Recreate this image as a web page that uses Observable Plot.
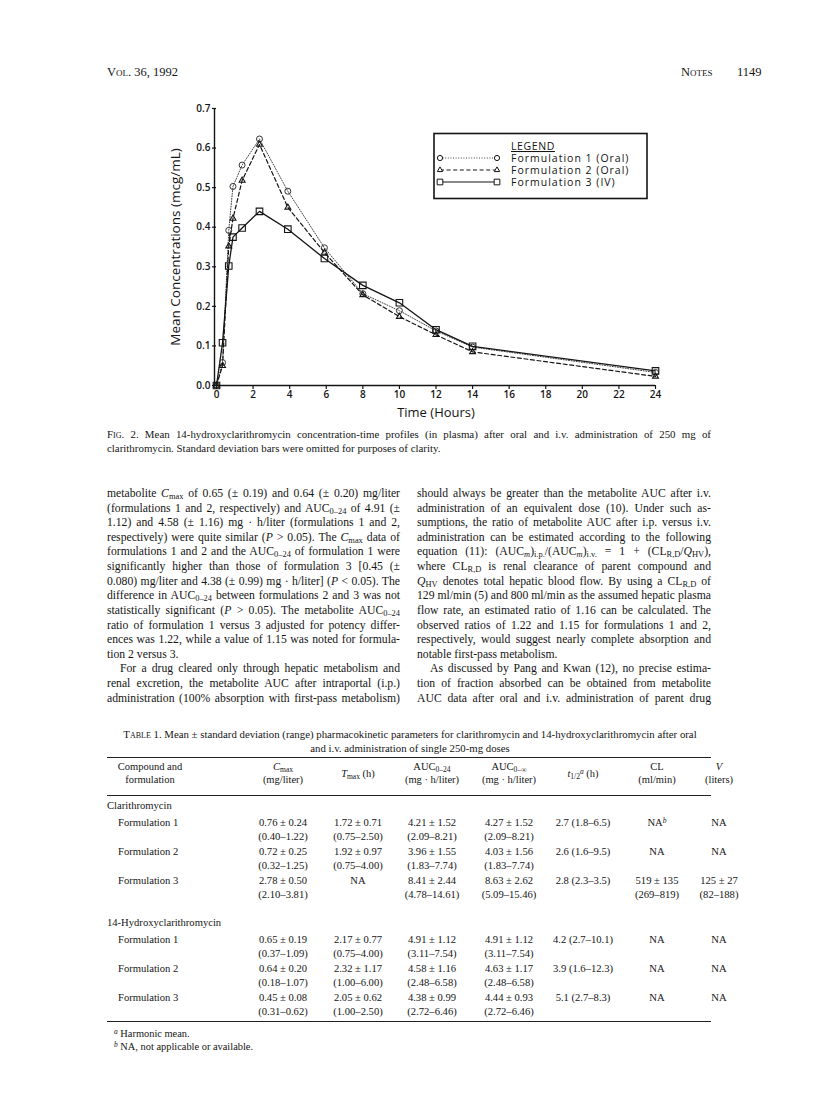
<!DOCTYPE html>
<html><head><meta charset="utf-8">
<script src="https://cdn.jsdelivr.net/npm/d3@7"></script>
<script src="https://cdn.jsdelivr.net/npm/@observablehq/plot@0.6"></script>
<style>
html,body{margin:0;padding:0;background:#fff;}
#page{position:relative;width:816px;height:1101px;overflow:hidden;font-family:"Liberation Serif","Times New Roman",serif;color:#151515;background:#fff;}
.t{position:absolute;white-space:nowrap;line-height:14px;}
.j{position:absolute;text-align:justify;text-align-last:justify;line-height:14px;height:14px;font-size:11.6px;}
.jl{text-align-last:left;}
sub{font-size:0.72em;vertical-align:-0.25em;line-height:0;}
sup{font-size:0.72em;vertical-align:0.45em;line-height:0;}
.sc{font-variant:small-caps;}
.rule{position:absolute;background:#222;}
#chart{position:absolute;left:150px;top:95px;}
</style></head><body><div id="page"></div>
<script>
// ---------- chart data ----------
const times = [0, 0.33, 0.67, 0.9, 1.4, 2.35, 3.9, 5.9, 8, 10, 12, 14, 24];
const form1 = [0, 0.058, 0.392, 0.503, 0.557, 0.623, 0.491, 0.348, 0.232, 0.189, 0.138, 0.097, 0.033];
const form2 = [0, 0.050, 0.352, 0.422, 0.518, 0.609, 0.450, 0.336, 0.229, 0.174, 0.128, 0.085, 0.023];
const form3 = [0, 0.108, 0.302, 0.375, 0.398, 0.440, 0.395, 0.321, 0.253, 0.209, 0.141, 0.099, 0.037];
const seriesNames = ["Formulation 1 (Oral)", "Formulation 2 (Oral)", "Formulation 3 (IV)"];
const xTicks = [0, 2, 4, 6, 8, 10, 12, 14, 16, 18, 20, 22, 24];
const yTicks = [0, 0.1, 0.2, 0.3, 0.4, 0.5, 0.6, 0.7];
const xLabel = "Time (Hours)";
const yLabel = "Mean Concentrations (mcg/mL)";

// ---------- page text ----------
const caption = [
  '<span class="sc">Fig.</span> 2. Mean 14-hydroxyclarithromycin concentration-time profiles (in plasma) after oral and i.v. administration of 250 mg of',
  'clarithromycin. Standard deviation bars were omitted for purposes of clarity.'
];
const leftCol = [
  ['metabolite <i>C</i><sub>max</sub> of 0.65 (± 0.19) and 0.64 (± 0.20) mg/liter', 0],
  ['(formulations 1 and 2, respectively) and AUC<sub>0–24</sub> of 4.91 (±', 0],
  ['1.12) and 4.58 (± 1.16) mg · h/liter (formulations 1 and 2,', 0],
  ['respectively) were quite similar (<i>P</i> &gt; 0.05). The <i>C</i><sub>max</sub> data of', 0],
  ['formulations 1 and 2 and the AUC<sub>0–24</sub> of formulation 1 were', 0],
  ['significantly higher than those of formulation 3 [0.45 (±', 0],
  ['0.080) mg/liter and 4.38 (± 0.99) mg · h/liter] (<i>P</i> &lt; 0.05). The', 0],
  ['difference in AUC<sub>0–24</sub> between formulations 2 and 3 was not', 0],
  ['statistically significant (<i>P</i> &gt; 0.05). The metabolite AUC<sub>0–24</sub>', 0],
  ['ratio of formulation 1 versus 3 adjusted for potency differ-', 0],
  ['ences was 1.22, while a value of 1.15 was noted for formula-', 0],
  ['tion 2 versus 3.', 2],
  ['For a drug cleared only through hepatic metabolism and', 1],
  ['renal excretion, the metabolite AUC after intraportal (i.p.)', 0],
  ['administration (100% absorption with first-pass metabolism)', 0]
];
const rightCol = [
  ['should always be greater than the metabolite AUC after i.v.', 0],
  ['administration of an equivalent dose (10). Under such as-', 0],
  ['sumptions, the ratio of metabolite AUC after i.p. versus i.v.', 0],
  ['administration can be estimated according to the following', 0],
  ['equation (11): (AUC<sub><i>m</i></sub>)<sub>i.p.</sub>/(AUC<sub><i>m</i></sub>)<sub>i.v.</sub> = 1 + (CL<sub>R,D</sub>/<i>Q</i><sub>HV</sub>),', 0],
  ['where CL<sub>R,D</sub> is renal clearance of parent compound and', 0],
  ['<i>Q</i><sub>HV</sub> denotes total hepatic blood flow. By using a CL<sub>R,D</sub> of', 0],
  ['129 ml/min (5) and 800 ml/min as the assumed hepatic plasma', 0],
  ['flow rate, an estimated ratio of 1.16 can be calculated. The', 0],
  ['observed ratios of 1.22 and 1.15 for formulations 1 and 2,', 0],
  ['respectively, would suggest nearly complete absorption and', 0],
  ['notable first-pass metabolism.', 2],
  ['As discussed by Pang and Kwan (12), no precise estima-', 1],
  ['tion of fraction absorbed can be obtained from metabolite', 0],
  ['AUC data after oral and i.v. administration of parent drug', 0]
];
const tableTitle = [
  '<span class="sc">Table</span> 1. Mean ± standard deviation (range) pharmacokinetic parameters for clarithromycin and 14-hydroxyclarithromycin after oral',
  'and i.v. administration of single 250-mg doses'
];
const colCenters = [150, 283, 358, 432, 509, 583, 657, 719];
const colHeads = [
  ['Compound and', 'formulation'],
  ['<i>C</i><sub>max</sub>', '(mg/liter)'],
  ['<i>T</i><sub>max</sub> (h)'],
  ['AUC<sub>0–24</sub>', '(mg · h/liter)'],
  ['AUC<sub>0–∞</sub>', '(mg · h/liter)'],
  ['<i>t</i><sub>1/2</sub><sup><i>a</i></sup> (h)'],
  ['CL', '(ml/min)'],
  ['<i>V</i>', '(liters)']
];
const groups = ['Clarithromycin', '14-Hydroxyclarithromycin'];
const rowLabels = ['Formulation 1', 'Formulation 2', 'Formulation 3'];
const tableCells = [
  [ // clarithromycin
    [['0.76 ± 0.24','(0.40–1.22)'],['1.72 ± 0.71','(0.75–2.50)'],['4.21 ± 1.52','(2.09–8.21)'],['4.27 ± 1.52','(2.09–8.21)'],['2.7 (1.8–6.5)'],['NA<sup><i>b</i></sup>'],['NA']],
    [['0.72 ± 0.25','(0.32–1.25)'],['1.92 ± 0.97','(0.75–4.00)'],['3.96 ± 1.55','(1.83–7.74)'],['4.03 ± 1.56','(1.83–7.74)'],['2.6 (1.6–9.5)'],['NA'],['NA']],
    [['2.78 ± 0.50','(2.10–3.81)'],['NA'],['8.41 ± 2.44','(4.78–14.61)'],['8.63 ± 2.62','(5.09–15.46)'],['2.8 (2.3–3.5)'],['519 ± 135','(269–819)'],['125 ± 27','(82–188)']]
  ],
  [ // 14-hydroxyclarithromycin
    [['0.65 ± 0.19','(0.37–1.09)'],['2.17 ± 0.77','(0.75–4.00)'],['4.91 ± 1.12','(3.11–7.54)'],['4.91 ± 1.12','(3.11–7.54)'],['4.2 (2.7–10.1)'],['NA'],['NA']],
    [['0.64 ± 0.20','(0.18–1.07)'],['2.32 ± 1.17','(1.00–6.00)'],['4.58 ± 1.16','(2.48–6.58)'],['4.63 ± 1.17','(2.48–6.58)'],['3.9 (1.6–12.3)'],['NA'],['NA']],
    [['0.45 ± 0.08','(0.31–0.62)'],['2.05 ± 0.62','(1.00–2.50)'],['4.38 ± 0.99','(2.72–6.46)'],['4.44 ± 0.93','(2.72–6.46)'],['5.1 (2.7–8.3)'],['NA'],['NA']]
  ]
];
const footnotes = ['<sup><i>a</i></sup> Harmonic mean.', '<sup><i>b</i></sup> NA, not applicable or available.'];

// ---------- helpers ----------
const page = document.getElementById('page');
function put(html, x, y, o = {}) {
  const d = document.createElement('div');
  d.className = 't';
  d.innerHTML = html;
  d.style.top = (y - 7) + 'px';
  d.style.fontSize = (o.size || 10.6) + 'px';
  if (o.align === 'center') { d.style.left = x + 'px'; d.style.transform = 'translateX(-50%)'; }
  else d.style.left = x + 'px';
  page.appendChild(d);
  return d;
}
function jline(html, x, w, y, kind, size) {
  const d = document.createElement('div');
  d.className = 'j' + (kind === 2 ? ' jl' : '');
  d.innerHTML = html;
  d.style.left = x + 'px';
  d.style.width = w + 'px';
  d.style.top = (y - 7) + 'px';
  d.style.fontSize = size + 'px';
  if (kind === 1) d.style.textIndent = '13px';
  page.appendChild(d);
}
function rule(x, y, w, h) {
  const d = document.createElement('div');
  d.className = 'rule';
  Object.assign(d.style, {left: x + 'px', top: y + 'px', width: w + 'px', height: h + 'px'});
  page.appendChild(d);
}

// ---------- header ----------
put('<span class="sc">Vol.</span> 36, 1992', 107, 72, {size: 12.5});
put('<span class="sc">Notes</span>', 681, 72, {size: 12.5});
put('1149', 737, 72, {size: 12.5});

// ---------- chart ----------
const rowsOf = (vals, s) => times.map((t, i) => ({t, v: vals[i], s}));
const r1 = rowsOf(form1, seriesNames[0]);
const r2 = rowsOf(form2, seriesNames[1]);
const r3 = rowsOf(form3, seriesNames[2]);
const ink = "#141414";
const chart = Plot.plot({
  width: 560, height: 335,
  marginLeft: 66, marginRight: 55, marginTop: 13, marginBottom: 45,
  style: {fontFamily: '"Open Sans", "DejaVu Sans", sans-serif', fontSize: "10px", color: ink, background: "transparent", overflow: "visible"},
  x: {domain: [0, 24]},
  y: {domain: [0, 0.7]},
  marks: [
    Plot.axisX({ticks: xTicks, tickSize: 4, tickPadding: 1, tickFormat: d => String(d), fontWeight: 600, label: null, strokeWidth: 1.2}),
    Plot.axisY({ticks: yTicks, tickSize: 4, tickPadding: 2, tickFormat: d3.format(".1f"), fontWeight: 600, label: null, strokeWidth: 1.2}),
    Plot.ruleY([0], {stroke: ink, strokeWidth: 1.6}),
    Plot.ruleX([0], {stroke: ink, strokeWidth: 1.4, dx: -2}),
    Plot.line(r1, {x: "t", y: "v", stroke: "#444", strokeWidth: 1, strokeDasharray: "1,1.6"}),
    Plot.line(r2, {x: "t", y: "v", stroke: ink, strokeWidth: 1.2, strokeDasharray: "4,2.6"}),
    Plot.line(r3, {x: "t", y: "v", stroke: ink, strokeWidth: 1.3}),
    Plot.dot(r1, {x: "t", y: "v", symbol: "circle", r: 3, stroke: "#333", strokeWidth: 1, fill: "none"}),
    Plot.dot(r2, {x: "t", y: "v", symbol: "triangle", r: 2.2, stroke: ink, strokeWidth: 1.1, fill: "none"}),
    Plot.dot(r3, {x: "t", y: "v", symbol: "square", r: 3.7, stroke: ink, strokeWidth: 1.1, fill: "none"}),
    Plot.text([xLabel], {text: d => d, frameAnchor: "bottom", dy: 27, lineAnchor: "middle", textAnchor: "middle", fontSize: 13, fill: ink}),
    Plot.text([yLabel], {text: d => d, frameAnchor: "left", dx: -41, rotate: -90, lineAnchor: "middle", textAnchor: "middle", fontSize: 13.5, fill: ink})
  ]
});
const holder = document.createElement('div');
holder.id = 'chart';
holder.appendChild(chart);
page.appendChild(holder);

// ---------- legend (frame + samples) ----------
const lg = d3.select(page).append('svg').attr('width', 816).attr('height', 240)
  .style('position', 'absolute').style('left', '0px').style('top', '0px');
lg.append('rect').attr('x', 434).attr('y', 133.5).attr('width', 213).attr('height', 65)
  .attr('fill', 'white').attr('stroke', ink).attr('stroke-width', 1.6);
const legFont = '"Open Sans", sans-serif';
lg.append('text').attr('x', 511).attr('y', 150).text('LEGEND')
  .attr('font-family', legFont).attr('font-size', 10.5).attr('letter-spacing', 0.6).attr('fill', ink).attr('text-decoration', 'underline');
const legRows = [
  {y: 158, dash: '1,1.6', sym: 'circle', r: 2.6, col: '#444'},
  {y: 170, dash: '4,2.6', sym: 'triangle', r: 2, col: ink},
  {y: 182, dash: null, sym: 'square', r: 3.2, col: ink}
];
const symMap = {circle: d3.symbolCircle, triangle: d3.symbolTriangle, square: d3.symbolSquare};
legRows.forEach((r, i) => {
  const ln = lg.append('line').attr('x1', 440).attr('x2', 497).attr('y1', r.y).attr('y2', r.y)
    .attr('stroke', r.col).attr('stroke-width', i === 0 ? 1 : 1.2);
  if (r.dash) ln.attr('stroke-dasharray', r.dash);
  [440, 497].forEach(x => {
    lg.append('path').attr('d', d3.symbol(symMap[r.sym], Math.PI * r.r * r.r)())
      .attr('transform', `translate(${x},${r.y})`).attr('fill', 'white').attr('stroke', ink).attr('stroke-width', 1);
  });
  lg.append('text').attr('x', 511).attr('y', r.y + 3.8).text(seriesNames[i])
    .attr('font-family', legFont).attr('font-size', 10.5).attr('letter-spacing', 1).attr('fill', ink);
});

// ---------- caption ----------
jline(caption[0], 107, 604, 434, 0, 10.9);
put(caption[1], 107, 448, {size: 10.9});

// ---------- body columns ----------
leftCol.forEach(([h, k], i) => jline(h, 107, 293, 494 + i * 14.62, k, 11.7));
rightCol.forEach(([h, k], i) => jline(h, 417, 294, 494 + i * 14.62, k, 11.7));

// ---------- table ----------
put(tableTitle[0], 410, 734, {size: 10.8, align: 'center'});
put(tableTitle[1], 410, 748, {size: 10.8, align: 'center'});
rule(107, 757, 604, 1.3);
rule(107, 795, 604, 0.9);
rule(107, 1021, 604, 1);
colHeads.forEach((lines, c) => {
  if (lines.length === 2) {
    put(lines[0], colCenters[c], 767, {size: 10.5, align: 'center'});
    put(lines[1], colCenters[c], 780, {size: 10.5, align: 'center'});
  } else {
    put(lines[0], colCenters[c], 774, {size: 10.5, align: 'center'});
  }
});
const groupY = [806, 923];
groups.forEach((g, gi) => {
  put(g, 107, groupY[gi], {size: 10.6});
  rowLabels.forEach((lab, ri) => {
    const y = groupY[gi] + 17 + ri * 29;
    put(lab, 118, y, {size: 10.6});
    tableCells[gi][ri].forEach((cell, ci) => {
      put(cell[0], colCenters[ci + 1], y, {size: 10.6, align: 'center'});
      if (cell[1]) put(cell[1], colCenters[ci + 1], y + 14, {size: 10.6, align: 'center'});
    });
  });
});
put(footnotes[0], 114, 1034, {size: 10.4});
put(footnotes[1], 114, 1047, {size: 10.4});
</script></body></html>
